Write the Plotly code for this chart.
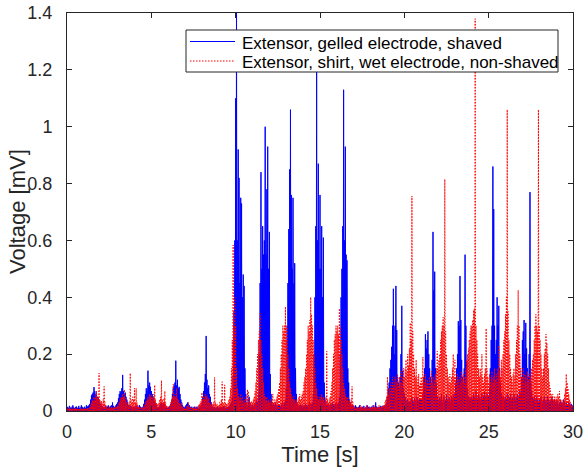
import numpy as np
import plotly.graph_objects as go

# Sampling grid of the recorded (rectified) EMG peaks, in seconds
DT = 0.05

# Blue: Extensor, gelled electrode, shaved (peak per 0.05 s slot, mV) - one row per second
blue_mv = [
    .012,.015,.010,.018,.012,.010,.015,.020,.012,.010,.014,.016,.010,.012,.018,.010,.012,.020,.015,.010,
    .012,.015,.010,.020,.015,.018,.020,.025,.040,.055,.060,.065,.084,.070,.060,.065,.050,.045,.040,.030,
    .025,.020,.018,.015,.012,.015,.018,.012,.015,.020,.012,.015,.018,.020,.030,.018,.015,.012,.020,.025,
    .030,.045,.060,.070,.065,.080,.127,.070,.060,.065,.050,.040,.030,.020,.015,.018,.012,.015,.010,.014,
    .012,.015,.020,.018,.012,.015,.020,.015,.012,.010,.015,.025,.040,.060,.080,.070,.142,.090,.100,.085,
    .070,.060,.050,.045,.035,.025,.020,.015,.012,.015,.020,.025,.030,.020,.025,.030,.020,.015,.012,.010,
    .012,.015,.018,.025,.040,.060,.080,.090,.100,.177,.090,.110,.080,.085,.060,.040,.030,.020,.015,.012,
    .015,.020,.025,.030,.025,.020,.015,.012,.015,.010,.012,.015,.012,.010,.015,.012,.010,.015,.018,.020,
    .030,.050,.070,.100,.130,.264,.110,.080,.090,.060,.050,.030,.020,.015,.012,.015,.010,.012,.015,.012,
    .010,.015,.012,.010,.015,.012,.018,.012,.010,.015,.012,.015,.018,.020,.025,.030,.050,.120,.350,.600,
    1.10,1.45,.600,.920,.820,.450,.750,.730,.400,.480,.440,.150,.060,.030,.020,.040,.050,.030,.020,.015,
    .020,.015,.020,.025,.030,.040,.030,.060,.200,.450,.840,.500,.650,.550,.600,1.00,.550,.780,.930,.500,
    .630,.130,.060,.030,.020,.025,.020,.030,.020,.015,.020,.025,.020,.015,.020,.025,.030,.020,.030,.040,
    .080,.300,.450,.640,.850,1.06,.760,.500,.750,.450,.520,.150,.060,.030,.020,.015,.020,.025,.020,.015,
    .020,.015,.020,.025,.020,.015,.020,.025,.030,.020,.025,.030,.060,.200,.400,.650,1.28,.600,.870,.500,
    .760,.500,.650,.400,.610,.100,.040,.030,.020,.025,.020,.015,.020,.025,.020,.030,.025,.020,.025,.030,
    .020,.025,.030,.050,.200,.400,.500,.650,1.13,.600,.930,.550,.530,.150,.100,.040,.030,.020,.015,.020,
    .015,.012,.020,.015,.010,.012,.015,.020,.012,.010,.015,.012,.018,.010,.012,.015,.020,.012,.015,.010,
    .012,.015,.010,.020,.015,.012,.030,.015,.012,.010,.015,.012,.018,.015,.012,.015,.020,.015,.020,.030,
    .050,.080,.100,.150,.180,.226,.300,.430,.200,.300,.440,.285,.120,.100,.080,.120,.200,.370,.140,.080,
    .060,.050,.040,.030,.040,.030,.035,.030,.040,.050,.035,.030,.045,.040,.030,.050,.040,.035,.045,.040,
    .040,.040,.060,.120,.150,.270,.220,.250,.280,.200,.150,.120,.100,.180,.630,.425,.490,.150,.100,.050,
    .040,.030,.050,.040,.060,.030,.040,.050,.030,.040,.060,.040,.030,.050,.040,.030,.050,.040,.060,.050,
    .060,.100,.150,.200,.316,.300,.475,.320,.180,.120,.100,.150,.550,.300,.170,.080,.050,.040,.050,.040,
    .050,.040,.060,.050,.040,.070,.050,.040,.060,.050,.040,.050,.060,.040,.050,.070,.050,.040,.060,.050,
    .050,.080,.150,.250,.300,.860,.710,.300,.200,.250,.400,.300,.370,.150,.100,.060,.050,.040,.050,.040,
    .050,.040,.060,.050,.040,.050,.060,.040,.050,.040,.060,.050,.040,.050,.060,.040,.050,.070,.060,.120,
    .250,.280,.320,.200,.310,.220,.150,.120,.200,.770,.100,.070,.050,.040,.050,.040,.030,.050,.040,.030,
    .040,.030,.050,.040,.030,.040,.050,.030,.040,.030,.050,.040,.030,.040,.030,.050,.040,.030,.040,.030,
    .030,.040,.030,.020,.030,.040,.030,.020,.030,.040,.030,.020,.030,.025,.020,.030,.025,.020,.025,.020,
]

# Red: Extensor, shirt, wet electrode, non-shaved (peak per 0.05 s slot, mV) - one row per second
red_mv = [
    .008,.010,.006,.012,.008,.007,.010,.009,.006,.008,.012,.007,.009,.010,.006,.008,.011,.007,.009,.008,
    .008,.010,.007,.009,.012,.008,.010,.015,.020,.030,.040,.035,.050,.040,.060,.070,.045,.050,.133,.040,
    .030,.035,.025,.040,.086,.030,.020,.015,.010,.012,.015,.010,.012,.015,.010,.012,.015,.012,.010,.015,
    .020,.025,.030,.040,.050,.045,.060,.050,.075,.045,.040,.030,.025,.020,.030,.133,.040,.030,.050,.040,
    .080,.030,.080,.030,.020,.015,.012,.010,.012,.010,.012,.015,.020,.030,.035,.040,.050,.040,.060,.050,
    .055,.040,.050,.060,.091,.040,.030,.025,.020,.030,.040,.050,.107,.040,.030,.045,.070,.030,.020,.015,
    .012,.015,.020,.030,.040,.050,.094,.050,.060,.050,.080,.045,.040,.030,.025,.020,.030,.015,.012,.010,
    .010,.012,.015,.020,.030,.015,.012,.010,.012,.010,.012,.010,.015,.012,.010,.015,.020,.025,.030,.035,
    .065,.040,.050,.045,.060,.050,.055,.040,.045,.030,.025,.030,.020,.025,.030,.118,.030,.020,.025,.020,
    .020,.030,.025,.040,.103,.030,.025,.092,.030,.025,.020,.030,.040,.050,.080,.150,.250,.584,.300,.400,
    .300,.150,.080,.060,.050,.040,.060,.040,.050,.030,.040,.030,.050,.030,.076,.070,.040,.030,.030,.035,
    .030,.040,.050,.070,.100,.150,.200,.250,.280,.344,.250,.200,.150,.100,.060,.050,.040,.050,.030,.040,
    .030,.040,.035,.030,.060,.030,.040,.030,.040,.050,.060,.080,.100,.150,.200,.250,.300,.280,.300,.367,
    .250,.300,.200,.150,.100,.080,.060,.050,.040,.050,.040,.030,.040,.030,.040,.050,.060,.040,.050,.060,
    .070,.100,.120,.150,.200,.250,.300,.280,.320,.400,.340,.300,.250,.200,.150,.100,.080,.050,.040,.050,
    .040,.050,.060,.040,.050,.030,.040,.050,.210,.040,.030,.040,.050,.070,.100,.150,.200,.250,.270,.300,
    .280,.300,.270,.360,.300,.250,.200,.150,.100,.080,.060,.050,.040,.050,.030,.040,.030,.040,.086,.030,
    .020,.015,.012,.010,.012,.015,.010,.012,.020,.015,.010,.012,.015,.010,.012,.020,.015,.010,.012,.015,
    .012,.010,.015,.012,.020,.015,.012,.010,.015,.012,.020,.015,.012,.015,.020,.015,.020,.030,.040,.050,
    .120,.060,.080,.070,.100,.080,.120,.090,.100,.120,.080,.100,.130,.090,.120,.100,.140,.100,.120,.150,
    .120,.150,.180,.140,.200,.160,.220,.310,.250,.756,.280,.200,.150,.120,.180,.120,.100,.130,.090,.100,
    .120,.100,.190,.120,.100,.130,.090,.110,.100,.080,.120,.100,.140,.100,.120,.090,.110,.130,.150,.210,
    .150,.180,.200,.250,.280,.300,.330,.300,.815,.280,.200,.150,.120,.100,.130,.100,.120,.150,.200,.120,
    .180,.120,.100,.130,.110,.090,.120,.100,.140,.110,.130,.100,.120,.150,.180,.200,.220,.250,.280,.300,
    .300,.320,.355,.360,1.38,.300,.250,.200,.150,.120,.150,.130,.200,.120,.100,.130,.150,.290,.150,.120,
    .100,.130,.100,.120,.140,.100,.120,.150,.110,.130,.100,.150,.230,.140,.120,.180,.150,.200,.250,.280,
    .340,.400,1.06,.350,.250,.200,.150,.120,.100,.130,.150,.120,.200,.250,.300,.425,.300,.200,.150,.120,
    .120,.150,.100,.130,.120,.100,.140,.110,.130,.100,.120,.150,.180,.200,.250,.300,.340,.300,.280,1.06,
    .300,.250,.200,.150,.120,.150,.200,.220,.270,.240,.200,.150,.100,.080,.060,.050,.060,.040,.050,.040,
    .050,.040,.060,.050,.070,.040,.030,.040,.030,.040,.060,.080,.130,.100,.080,.060,.040,.030,.020,.020,
]

series_names = ["Extensor, gelled electrode, shaved",
                "Extensor, shirt, wet electrode, non-shaved"]
x_ticks = [0, 5, 10, 15, 20, 25, 30]
y_ticks = [0, 0.2, 0.4, 0.6, 0.8, 1.0, 1.2, 1.4]
x_title = "Time [s]"
y_title = "Voltage [mV]"


def rectified_trace(values):
    """Each recorded peak is drawn as a spike rising from and returning to 0 mV."""
    v = np.asarray(values, dtype=float)
    t = np.arange(len(v)) * DT
    xs = np.empty(2 * len(v))
    ys = np.zeros(2 * len(v))
    xs[0::2] = t
    xs[1::2] = t + DT / 2
    ys[0::2] = v
    return xs, ys


W, H = 586, 469
ML, MR, MT, MB = 67, 13, 13, 58
PW, PH = W - ML - MR, H - MT - MB


def px(xp):  # pixel column -> paper x
    return (xp - ML) / PW


def py(yp):  # pixel row -> paper y
    return (H - MB - yp) / PH


FONT = "Liberation Sans, Arial, Helvetica, sans-serif"
AX = "#262626"
BLUE, RED = "#0000ff", "#ff0000"
RED_DASH = "1.5px,1.5px"

fig = go.Figure()
bx, by = rectified_trace(blue_mv)
rx, ry = rectified_trace(red_mv)
fig.add_trace(go.Scatter(x=bx, y=by, mode="lines", name=series_names[0],
                         line=dict(color=BLUE, width=1),
                         fill="tozeroy", fillcolor="rgba(0,0,255,0.55)"))
fig.add_trace(go.Scatter(x=rx, y=ry, mode="lines", name=series_names[1],
                         line=dict(color=RED, width=1, dash=RED_DASH)))

# Legend box (MATLAB style, compact rows)
shapes = [dict(type="rect", xref="paper", yref="paper",
               x0=px(186), x1=px(558), y0=py(72), y1=py(30),
               fillcolor="white", line=dict(color=AX, width=1), layer="above")]
annotations = []
rows = [(41.5, 43.5, BLUE, None), (61, 62.5, RED, RED_DASH)]
for name, (ly, ty, col, dash) in zip(series_names, rows):
    ld = dict(color=col, width=1)
    if dash:
        ld["dash"] = dash
    shapes.append(dict(type="line", xref="paper", yref="paper",
                       x0=px(190), x1=px(235), y0=py(ly), y1=py(ly),
                       line=ld, layer="above"))
    annotations.append(dict(xref="paper", yref="paper", x=px(240), y=py(ty),
                            xanchor="left", yanchor="middle", showarrow=False,
                            text=name, font=dict(family=FONT, size=17, color="#000000")))

# Y-axis title, centred on the axis
annotations.append(dict(xref="paper", yref="paper", x=px(17), y=0.5,
                        xanchor="center", yanchor="middle", showarrow=False,
                        textangle=-90, text=y_title,
                        font=dict(family=FONT, size=22, color=AX)))

fig.update_layout(
    width=W, height=H,
    margin=dict(l=ML, r=MR, t=MT, b=MB),
    paper_bgcolor="white", plot_bgcolor="white",
    font=dict(family=FONT, size=18, color=AX),
    showlegend=False,
    shapes=shapes, annotations=annotations,
)
fig.update_xaxes(range=[0, 30], tickvals=x_ticks, ticks="inside", ticklen=5,
                 tickcolor=AX, showline=True, linecolor=AX, linewidth=1,
                 mirror="ticks", showgrid=False, zeroline=False, automargin=False,
                 ticklabelstandoff=4,
                 title=dict(text=x_title, font=dict(size=22), standoff=4))
fig.update_yaxes(range=[0, 1.4], tickvals=y_ticks, ticks="inside", ticklen=5,
                 tickcolor=AX, showline=True, linecolor=AX, linewidth=1,
                 mirror="ticks", showgrid=False, zeroline=False, automargin=False,
                 ticklabelstandoff=10)

fig.write_html("out.html")
